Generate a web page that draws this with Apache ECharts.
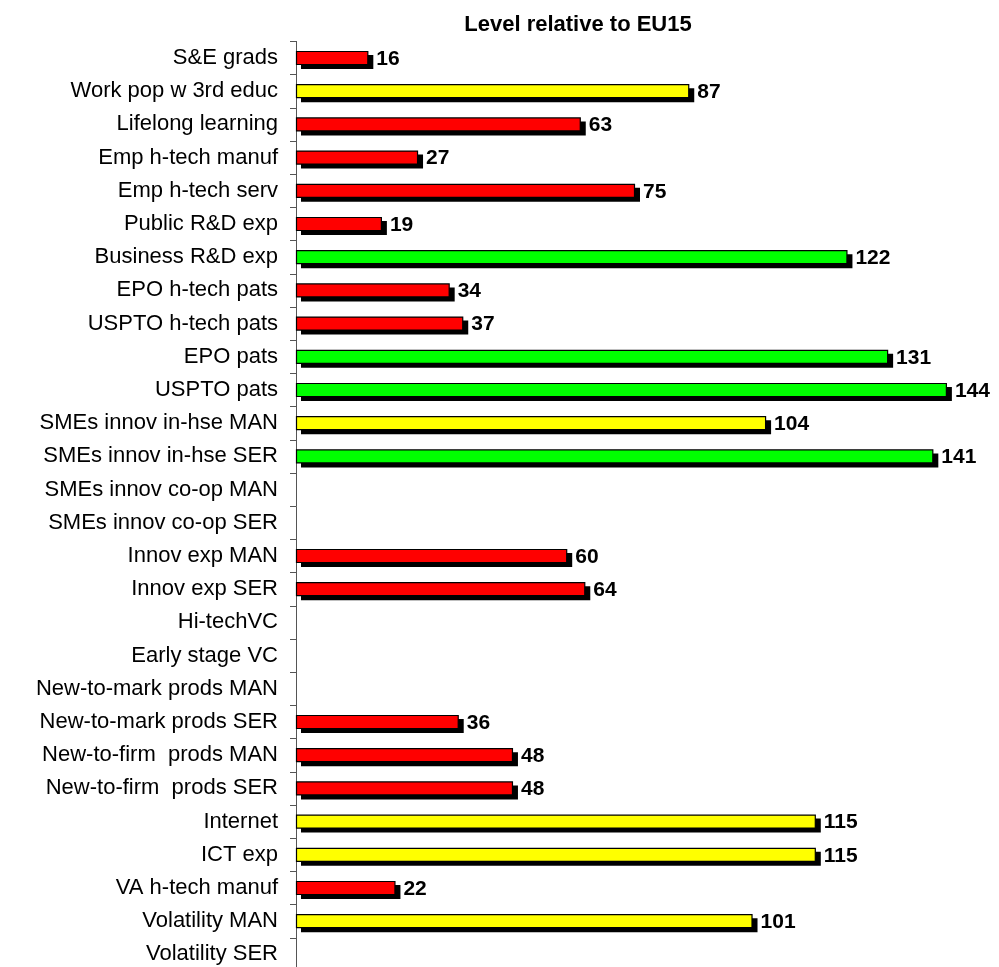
<!DOCTYPE html>
<html>
<head>
<meta charset="utf-8">
<script src="https://cdn.jsdelivr.net/npm/echarts@6/dist/echarts.min.js"></script>
<style>
html,body{margin:0;padding:0;background:#fff;overflow:hidden;}
#chart{width:999px;height:985px;}
</style>
</head>
<body>
<div id="chart"></div>
<script>
var categories = [
  "S&E grads","Work pop w 3rd educ","Lifelong learning","Emp h-tech manuf","Emp h-tech serv",
  "Public R&D exp","Business R&D exp","EPO h-tech pats","USPTO h-tech pats","EPO pats",
  "USPTO pats","SMEs innov in-hse MAN","SMEs innov in-hse SER","SMEs innov co-op MAN","SMEs innov co-op SER",
  "Innov exp MAN","Innov exp SER","Hi-techVC","Early stage VC","New-to-mark prods MAN",
  "New-to-mark prods SER","New-to-firm  prods MAN","New-to-firm  prods SER","Internet","ICT exp",
  "VA h-tech manuf","Volatility MAN","Volatility SER"
];
var values = [
  16,87,63,27,75,
  19,122,34,37,131,
  144,104,141,null,null,
  60,64,null,null,null,
  36,48,48,115,115,
  22,101,null
];
var levels = [
  "low","mid","low","low","low",
  "low","high","low","low","high",
  "high","mid","high",null,null,
  "low","low",null,null,null,
  "low","low","low","mid","mid",
  "low","mid",null
];
var title = "Level relative to EU15";

var levelColors = {low:"#FF0000", mid:"#FFFF00", high:"#00FF00"};
var data = [];
values.forEach(function(v,i){
  if (v !== null) data.push({value: [v, i], color: levelColors[levels[i]]});
});

var BAR_H = 14, SH_X = 5, SH_Y = 4;
function renderItem(params, api) {
  var v = api.value(0), idx = api.value(1);
  var p0 = api.coord([0, idx]);
  var p1 = api.coord([v, idx]);
  var w = p1[0] - p0[0];
  var color = data[params.dataIndex].color;
  return {
    type: 'group',
    children: [
      {type: 'rect', shape: {x: p0[0] + SH_X, y: p0[1] - BAR_H/2 + SH_Y, width: w, height: BAR_H},
       style: {fill: '#000'}},
      {type: 'rect', shape: {x: p0[0] + 0.5, y: p0[1] - BAR_H/2 + 0.5, width: w - 1, height: BAR_H - 1},
       style: {fill: color, stroke: '#000', lineWidth: 1.2}},
      {type: 'text', x: p1[0] + SH_X + 3, y: p0[1] + 1,
       style: {text: String(v), fill: '#000', font: 'bold 21px "Liberation Sans", Arial',
               textAlign: 'left', textVerticalAlign: 'middle'}}
    ]
  };
}

var chart = echarts.init(document.getElementById('chart'), null, {renderer:'canvas'});
chart.setOption({
  animation: false,
  title: {
    text: title, left: 573, top: 9, textAlign: 'center',
    textStyle: {fontFamily: 'Liberation Sans, Arial', fontSize: 22, fontWeight: 'bold', color: '#000'}
  },
  grid: {left: 296, top: 41.4, width: 678, height: 28*33.2, containLabel: false},
  xAxis: {
    type: 'value', min: 0, max: 150, show: false
  },
  yAxis: {
    type: 'category', data: categories, inverse: true,
    axisLine: {show: true, lineStyle: {color: '#555', width: 1}},
    axisTick: {show: true, length: 6, lineStyle: {color: '#555'}},
    axisLabel: {color: '#000', fontFamily: 'Liberation Sans, Arial', fontSize: 22, margin: 18},
    splitLine: {show: false}
  },
  series: [{
    type: 'custom',
    renderItem: renderItem,
    encode: {x: 0, y: 1},
    data: data,
    clip: false
  }]
});
</script>
</body>
</html>
